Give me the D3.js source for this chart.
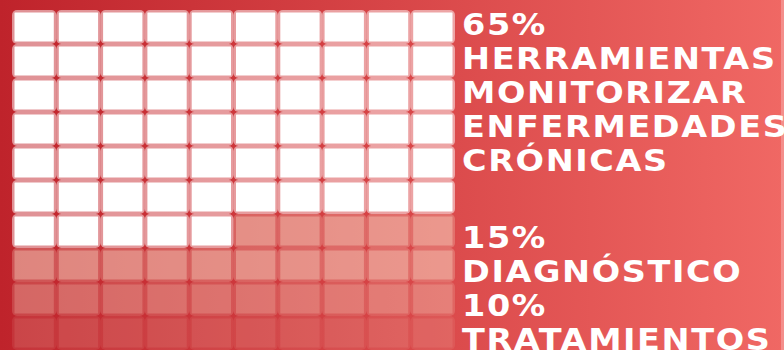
<!DOCTYPE html>
<html>
<head>
<meta charset="utf-8">
<script src="https://cdn.jsdelivr.net/npm/d3@7"></script>
<style>
  html, body { margin: 0; padding: 0; background: #c0252d; }
  svg { display: block; }
</style>
</head>
<body>
<svg id="chart"></svg>
<script>
// waffle: 10x10, one cell = 1%
const percents = [65, 15, 10, 10];
const pctLabels = ["65%", "15%", "10%", "10%"];
const labelLines = [
	["HERRAMIENTAS", "MONITORIZAR", "ENFERMEDADES", "CRÓNICAS"],
	["DIAGNÓSTICO"],
	["TRATAMIENTOS"],
	[]
];
const cellFill = ["#ffffff", "#fadcc8", "#fadcc8", "#fadcc8"];
const cellAlpha = [1, 0.53, 0.36, 0.18];

const width = 784,
	height = 350;

const svg = d3.select("#chart")
	.attr("width", width)
	.attr("height", height);

const grad = svg.append("defs").append("linearGradient")
	.attr("id", "bg")
	.attr("x1", 0).attr("x2", 1).attr("y1", 0).attr("y2", 0);
grad.append("stop").attr("offset", 0).attr("stop-color", "#bf232b");
grad.append("stop").attr("offset", 1).attr("stop-color", "#f06864");

svg.append("rect")
	.attr("width", width)
	.attr("height", height)
	.attr("fill", "url(#bg)");

// light strip at the far right edge
svg.append("rect")
	.attr("x", width - 3)
	.attr("width", 3)
	.attr("height", height)
	.attr("fill", "#fff")
	.attr("opacity", 0.25);

const cols = d3.range(10),
	rows = d3.range(10);

const x = d3.scaleBand().domain(cols).range([12, 455]);
const y = d3.scaleBand().domain(rows).range([10, 350]);

// one entry per cell, row-major
const cells = [];
let start = 0;
const startIdx = [];
percents.forEach((p, k) => {
	startIdx.push(start);
	for (let i = 0; i < p; i++) {
		const n = start + i;
		cells.push({ k, col: n % 10, row: Math.floor(n / 10) });
	}
	start += p;
});

const inset = 2.5;
const cell = svg.append("g")
	.selectAll("g")
	.data(cells)
	.join("g")
	.attr("transform", d => `translate(${x(d.col)},${y(d.row)})`)
	.attr("opacity", d => cellAlpha[d.k]);

// soft outer halo gives the pinkish gaps, rounded corners darken the crossings
cell.append("rect")
	.attr("width", x.bandwidth())
	.attr("height", y.bandwidth())
	.attr("rx", 5)
	.attr("fill", d => cellFill[d.k])
	.attr("opacity", 0.5);

cell.append("rect")
	.attr("x", inset)
	.attr("y", inset)
	.attr("width", x.bandwidth() - inset * 2)
	.attr("height", y.bandwidth() - inset * 2)
	.attr("rx", 0.5)
	.attr("fill", d => cellFill[d.k]);

// labels, stacked next to where each category starts
// the original face is wide, so stretch DejaVu a bit
const lineH = 34;
const labels = svg.append("g")
	.attr("transform", "translate(462,0) scale(1.08,1)")
	.attr("fill", "#fff")
	.attr("font-family", "'DejaVu Sans', sans-serif")
	.attr("font-weight", "bold")
	.attr("font-size", 31)
	.attr("letter-spacing", 1.5);

let prevBase = -Infinity;
percents.forEach((p, k) => {
	if (!labelLines[k].length) return;
	const row = Math.floor(startIdx[k] / 10);
	const off = k === 0 ? 25 : lineH; // first block sits tight on the top
	const base = Math.max(y(row) + off, prevBase + lineH);
	const lines = [pctLabels[k]].concat(labelLines[k]);
	lines.forEach((t, i) => {
		labels.append("text")
			.attr("x", 0)
			.attr("y", base + i * lineH)
			.text(t);
	});
	prevBase = base + (lines.length - 1) * lineH;
});
</script>
</body>
</html>
